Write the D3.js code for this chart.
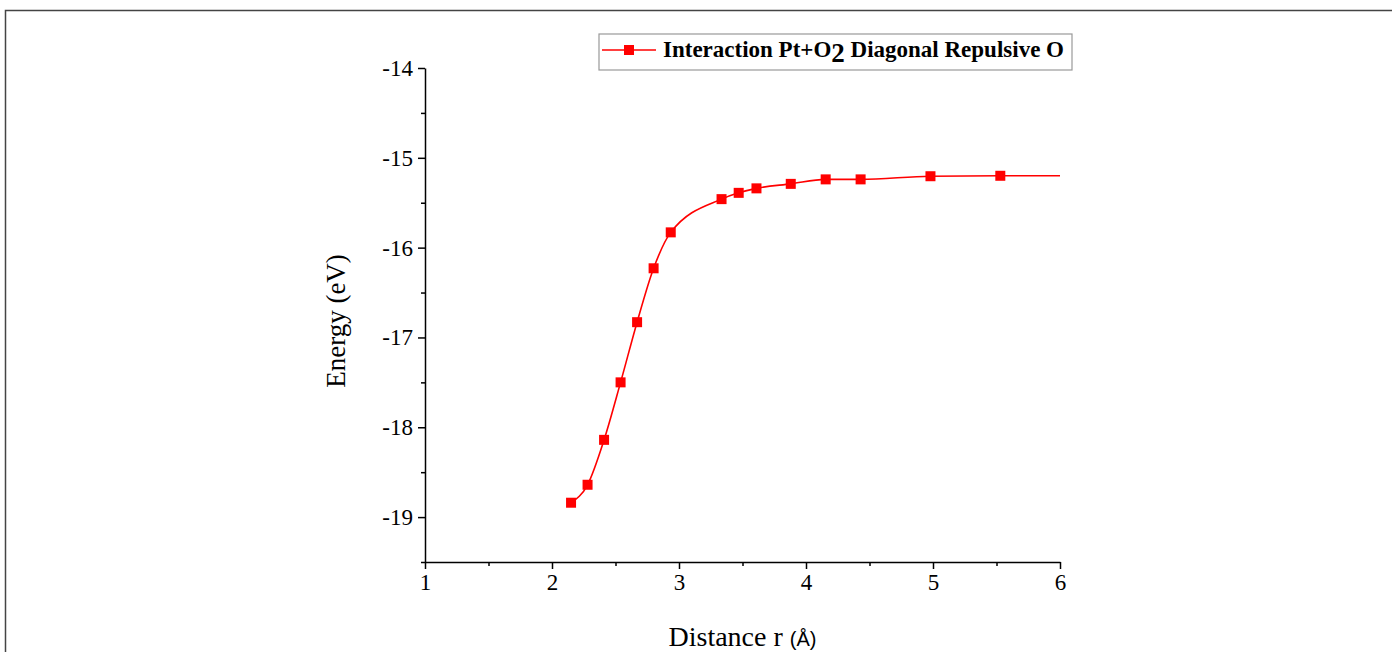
<!DOCTYPE html>
<html>
<head>
<meta charset="utf-8">
<script src="https://cdn.jsdelivr.net/npm/d3@7"></script>
<style>
  body { margin: 0; background: #fff; }
  svg { display: block; }
  .axis text { font-family: "Liberation Serif", "Times New Roman", serif; font-size: 23px; fill: #000; }
  .axis path, .axis line { stroke: #000; stroke-width: 1.5px; }
</style>
</head>
<body>
<div id="chart"></div>
<script>
// distance r (Å) and energy (eV)
let distance = [2.15, 2.28, 2.41, 2.54, 2.67, 2.80, 2.935, 3.335, 3.47, 3.61, 3.88, 4.155, 4.43, 4.98, 5.53];
let energy = [-18.84, -18.64, -18.14, -17.50, -16.83, -16.23, -15.83, -15.46, -15.39, -15.34, -15.29, -15.24, -15.24, -15.205, -15.20];
// fitted curve runs on to the end of the axis
let curveEndX = 6.0;
let curveEndY = -15.20;

let xTicks = [1, 2, 3, 4, 5, 6];
let yTicks = [-14, -15, -16, -17, -18, -19];
let legendLabel = ["Interaction Pt+O", "2", " Diagonal Repulsive O"];

let width = 1392, height = 652;
let margin = {top: 68, right: 332, bottom: 90, left: 425};

let svg = d3.select("#chart").append("svg")
  .attr("width", width)
  .attr("height", height);

// outer frame (top and left edges visible)
svg.append("path")
  .attr("d", `M5.5,${height} V10.5 H${width}`)
  .attr("fill", "none")
  .attr("stroke", "#444")
  .attr("stroke-width", 1.5);

let x = d3.scaleLinear().domain([1, 6]).range([margin.left, width - margin.right]);
let y = d3.scaleLinear().domain([-19.5, -14]).range([height - margin.bottom, margin.top]);

// minor ticks first, major ticks on top
svg.append("g")
  .attr("class", "axis")
  .attr("transform", `translate(0,${y(-19.5)})`)
  .call(d3.axisBottom(x).tickValues(d3.range(1.5, 6, 1)).tickSize(4).tickFormat(""))
  .select(".domain").remove();

svg.append("g")
  .attr("class", "axis")
  .attr("transform", `translate(${x(1)},0)`)
  .call(d3.axisLeft(y).tickValues(d3.range(-19.5, -14, 1)).tickSize(4).tickFormat(""))
  .select(".domain").remove();

svg.append("g")
  .attr("class", "axis")
  .attr("transform", `translate(0,${y(-19.5)})`)
  .call(d3.axisBottom(x).tickValues(xTicks).tickSize(7).tickSizeOuter(0).tickPadding(5)
    .tickFormat(d3.format("d")));

svg.append("g")
  .attr("class", "axis")
  .attr("transform", `translate(${x(1)},0)`)
  .call(d3.axisLeft(y).tickValues(yTicks).tickSize(7).tickSizeOuter(0).tickPadding(5)
    .tickFormat(d => String(d)));

// axis titles
let xTitle = svg.append("text")
  .attr("x", (x(1) + x(6)) / 2)
  .attr("y", 646)
  .attr("text-anchor", "middle")
  .style("font-family", "'Liberation Serif', serif")
  .style("font-size", "28px");
xTitle.append("tspan").text("Distance r ");
xTitle.append("tspan")
  .style("font-family", "'Liberation Sans', Arial, sans-serif")
  .style("font-size", "20px")
  .text("(Å)");

svg.append("text")
  .attr("transform", `translate(345,321) rotate(-90)`)
  .attr("text-anchor", "middle")
  .style("font-family", "'Liberation Serif', serif")
  .style("font-size", "27px")
  .text("Energy (eV)");

// data
let points = distance.map((d, i) => ({r: d, e: energy[i]}));
let curvePoints = points.concat([{r: curveEndX, e: curveEndY}]);

let line = d3.line()
  .x(d => x(d.r))
  .y(d => y(d.e))
  .curve(d3.curveMonotoneX);

svg.append("path")
  .datum(curvePoints)
  .attr("d", line)
  .attr("fill", "none")
  .attr("stroke", "#ff0000")
  .attr("stroke-width", 1.6);

let sq = 10;
svg.selectAll(".pt")
  .data(points)
  .enter()
  .append("rect")
  .attr("class", "pt")
  .attr("x", d => x(d.r) - sq / 2)
  .attr("y", d => y(d.e) - sq / 2)
  .attr("width", sq)
  .attr("height", sq)
  .attr("fill", "#ff0000");

// legend
let legend = svg.append("g").attr("transform", "translate(599,34)");
legend.append("rect")
  .attr("width", 473)
  .attr("height", 36)
  .attr("fill", "#fff")
  .attr("stroke", "#999")
  .attr("stroke-width", 1.2);
legend.append("line")
  .attr("x1", 3).attr("x2", 57)
  .attr("y1", 16).attr("y2", 16)
  .attr("stroke", "#ff0000")
  .attr("stroke-width", 1.6);
legend.append("rect")
  .attr("x", 30 - sq / 2).attr("y", 16 - sq / 2)
  .attr("width", sq).attr("height", sq)
  .attr("fill", "#ff0000");
let legendText = legend.append("text")
  .attr("x", 64)
  .attr("y", 23)
  .style("font-family", "'Liberation Serif', serif")
  .style("font-weight", "bold")
  .style("font-size", "23px");
legendText.append("tspan").text(legendLabel[0]);
legendText.append("tspan").attr("dy", 5).style("font-size", "27px").text(legendLabel[1]);
legendText.append("tspan").attr("dy", -5).text(legendLabel[2]);
</script>
</body>
</html>
